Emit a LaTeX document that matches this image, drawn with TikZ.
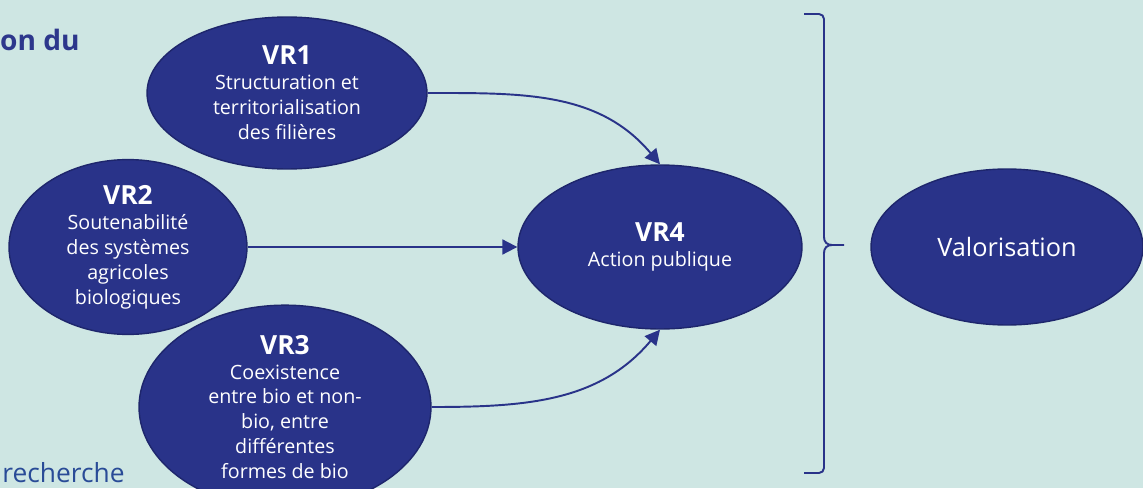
\documentclass[tikz,border=0pt]{standalone}
\usepackage{fontspec}
\setmainfont{Open Sans}
\usetikzlibrary{arrows.meta}
\usetikzlibrary{shapes.geometric}

\definecolor{fondvert}{RGB}{206,230,227}
\definecolor{bleuvr}{RGB}{41,51,137}
\definecolor{bordvr}{RGB}{30,38,108}
\definecolor{bleutxt}{RGB}{45,55,140}
\newcommand{\vrtitre}[1]{{\fontsize{15}{16}\selectfont\bfseries #1}}

\begin{document}
\begin{tikzpicture}[x=0.02cm,y=0.02cm,
        vr/.style={ellipse,fill=bleuvr,draw=bordvr,line width=0.8pt,inner sep=0pt,
            text=white,align=center,font=\fontsize{11.2}{14.2}\selectfont},
        lien/.style={draw=bleuvr,line width=1.1pt,-{Triangle[length=8.5pt,width=8.5pt]}}]
                \fill[fondvert] (0,0) rectangle (1143,488);
                \useasboundingbox (0,0) rectangle (1143,488);
                \clip (0,0) rectangle (1143,488);
                \node[anchor=base east,text=bleutxt,font=\fontsize{16}{18}\selectfont\bfseries,inner sep=0pt] (posi) at (80,438) {on du};
                \node[anchor=base west,text=bleutxt!90!cyan,font=\fontsize{15}{17}\selectfont,inner sep=0pt] (rech) at (2,6) {recherche};
                \node[vr,minimum width=5.6cm,minimum height=3.04cm] (vr1) at (287,395)
                    {\vrtitre{VR1}\\Structuration et\\territorialisation\\des filières};
                \node[vr,minimum width=4.76cm,minimum height=3.12cm] (vr2) at (128,241)
                    {\vrtitre{VR2}\\Soutenabilité\\des systèmes\\agricoles\\biologiques};
                \node[vr,minimum width=5.84cm,minimum height=3.56cm] (vr3) at (285,81)
                    {\vrtitre{VR3}\\Coexistence\\entre bio et non-\\bio, entre\\différentes\\formes de bio};
                \node[vr,minimum width=5.68cm,minimum height=3.28cm] (vr4) at (660,241)
                    {\vrtitre{VR4}\\Action publique};
                \node[vr,minimum width=5.44cm,minimum height=3.12cm,font=\fontsize{14.4}{17}\selectfont] (valo) at (1007,241) {Valorisation};
                \path
                (vr1.east) edge [lien, out=0, in=130] (vr4.north)
                (vr2.east) edge [lien] (vr4.west)
                (vr3.east) edge [lien, out=0, in=-130] (vr4.south);
                % accolade
                \draw[bleuvr,line width=1.1pt,line join=round]
                    (804,474) -- (819,474) to[out=0,in=90] (824,469) -- (824,251)
                    .. controls (824,246) and (827,243) .. (832,243) -- (844,243);
                \draw[bleuvr,line width=1.1pt,line join=round]
                    (832,243) .. controls (827,243) and (824,240) .. (824,235)
                    -- (824,20) to[out=-90,in=0] (819,15) -- (804,15);
            \end{tikzpicture}
\end{document}
